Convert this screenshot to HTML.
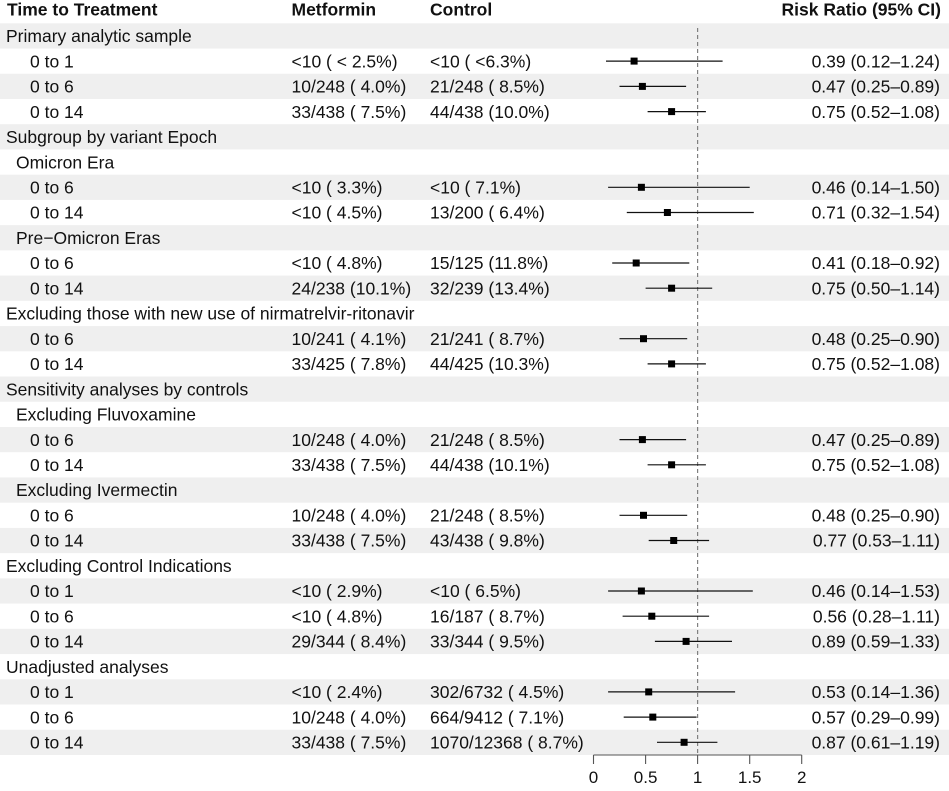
<!DOCTYPE html>
<html><head><meta charset="utf-8"><style>
html,body{margin:0;padding:0;background:#fff;}
svg{display:block;}
text{font-family:"Liberation Sans",Arial,sans-serif;font-size:17.5px;fill:#111;}
.b{font-weight:bold;}
.e{text-anchor:end;}
.m{text-anchor:middle;font-size:17px;}
</style></head><body>
<svg width="949" height="791" viewBox="0 0 949 791" xmlns="http://www.w3.org/2000/svg">
<g fill="#efefef">
<rect x="0" y="23.3" width="949" height="25.23"/>
<rect x="0" y="73.76" width="949" height="25.23"/>
<rect x="0" y="124.22" width="949" height="25.23"/>
<rect x="0" y="174.68" width="949" height="25.23"/>
<rect x="0" y="225.14" width="949" height="25.23"/>
<rect x="0" y="275.6" width="949" height="25.23"/>
<rect x="0" y="326.06" width="949" height="25.23"/>
<rect x="0" y="376.52" width="949" height="25.23"/>
<rect x="0" y="426.98" width="949" height="25.23"/>
<rect x="0" y="477.44" width="949" height="25.23"/>
<rect x="0" y="527.9" width="949" height="25.23"/>
<rect x="0" y="578.36" width="949" height="25.23"/>
<rect x="0" y="628.82" width="949" height="25.23"/>
<rect x="0" y="679.28" width="949" height="25.23"/>
<rect x="0" y="729.74" width="949" height="25.23"/>
</g>

<!-- header -->
<text class="b" x="7" y="15.5">Time to Treatment</text>
<text class="b" x="291.5" y="15.5">Metformin</text>
<text class="b" x="430" y="15.5">Control</text>
<text class="b e" x="941" y="15.5">Risk Ratio (95% CI)</text>

<!-- labels -->
<text x="6" y="42.1">Primary analytic sample</text>
<text x="30" y="67.3">0 to 1</text>
<text x="30" y="92.6">0 to 6</text>
<text x="30" y="117.8">0 to 14</text>
<text x="6" y="143.0">Subgroup by variant Epoch</text>
<text x="16" y="168.3">Omicron Era</text>
<text x="30" y="193.5">0 to 6</text>
<text x="30" y="218.7">0 to 14</text>
<text x="16" y="243.9">Pre−Omicron Eras</text>
<text x="30" y="269.2">0 to 6</text>
<text x="30" y="294.4">0 to 14</text>
<text x="6" y="319.6">Excluding those with new use of nirmatrelvir-ritonavir</text>
<text x="30" y="344.9">0 to 6</text>
<text x="30" y="370.1">0 to 14</text>
<text x="6" y="395.3">Sensitivity analyses by controls</text>
<text x="16" y="420.6">Excluding Fluvoxamine</text>
<text x="30" y="445.8">0 to 6</text>
<text x="30" y="471.0">0 to 14</text>
<text x="16" y="496.2">Excluding Ivermectin</text>
<text x="30" y="521.5">0 to 6</text>
<text x="30" y="546.7">0 to 14</text>
<text x="6" y="571.9">Excluding Control Indications</text>
<text x="30" y="597.2">0 to 1</text>
<text x="30" y="622.4">0 to 6</text>
<text x="30" y="647.6">0 to 14</text>
<text x="6" y="672.9">Unadjusted analyses</text>
<text x="30" y="698.1">0 to 1</text>
<text x="30" y="723.3">0 to 6</text>
<text x="30" y="748.5">0 to 14</text>

<!-- metformin -->
<text x="291.5" y="67.3">&lt;10 ( &lt; 2.5%)</text>
<text x="291.5" y="92.6">10/248 ( 4.0%)</text>
<text x="291.5" y="117.8">33/438 ( 7.5%)</text>
<text x="291.5" y="193.5">&lt;10 ( 3.3%)</text>
<text x="291.5" y="218.7">&lt;10 ( 4.5%)</text>
<text x="291.5" y="269.2">&lt;10 ( 4.8%)</text>
<text x="291.5" y="294.4">24/238 (10.1%)</text>
<text x="291.5" y="344.9">10/241 ( 4.1%)</text>
<text x="291.5" y="370.1">33/425 ( 7.8%)</text>
<text x="291.5" y="445.8">10/248 ( 4.0%)</text>
<text x="291.5" y="471.0">33/438 ( 7.5%)</text>
<text x="291.5" y="521.5">10/248 ( 4.0%)</text>
<text x="291.5" y="546.7">33/438 ( 7.5%)</text>
<text x="291.5" y="597.2">&lt;10 ( 2.9%)</text>
<text x="291.5" y="622.4">&lt;10 ( 4.8%)</text>
<text x="291.5" y="647.6">29/344 ( 8.4%)</text>
<text x="291.5" y="698.1">&lt;10 ( 2.4%)</text>
<text x="291.5" y="723.3">10/248 ( 4.0%)</text>
<text x="291.5" y="748.5">33/438 ( 7.5%)</text>

<!-- control -->
<text x="430" y="67.3">&lt;10 ( &lt;6.3%)</text>
<text x="430" y="92.6">21/248 ( 8.5%)</text>
<text x="430" y="117.8">44/438 (10.0%)</text>
<text x="430" y="193.5">&lt;10 ( 7.1%)</text>
<text x="430" y="218.7">13/200 ( 6.4%)</text>
<text x="430" y="269.2">15/125 (11.8%)</text>
<text x="430" y="294.4">32/239 (13.4%)</text>
<text x="430" y="344.9">21/241 ( 8.7%)</text>
<text x="430" y="370.1">44/425 (10.3%)</text>
<text x="430" y="445.8">21/248 ( 8.5%)</text>
<text x="430" y="471.0">44/438 (10.1%)</text>
<text x="430" y="521.5">21/248 ( 8.5%)</text>
<text x="430" y="546.7">43/438 ( 9.8%)</text>
<text x="430" y="597.2">&lt;10 ( 6.5%)</text>
<text x="430" y="622.4">16/187 ( 8.7%)</text>
<text x="430" y="647.6">33/344 ( 9.5%)</text>
<text x="430" y="698.1">302/6732 ( 4.5%)</text>
<text x="430" y="723.3">664/9412 ( 7.1%)</text>
<text x="430" y="748.5">1070/12368 ( 8.7%)</text>

<!-- RR text -->
<text class="e" x="940" y="67.3">0.39 (0.12–1.24)</text>
<text class="e" x="940" y="92.6">0.47 (0.25–0.89)</text>
<text class="e" x="940" y="117.8">0.75 (0.52–1.08)</text>
<text class="e" x="940" y="193.5">0.46 (0.14–1.50)</text>
<text class="e" x="940" y="218.7">0.71 (0.32–1.54)</text>
<text class="e" x="940" y="269.2">0.41 (0.18–0.92)</text>
<text class="e" x="940" y="294.4">0.75 (0.50–1.14)</text>
<text class="e" x="940" y="344.9">0.48 (0.25–0.90)</text>
<text class="e" x="940" y="370.1">0.75 (0.52–1.08)</text>
<text class="e" x="940" y="445.8">0.47 (0.25–0.89)</text>
<text class="e" x="940" y="471.0">0.75 (0.52–1.08)</text>
<text class="e" x="940" y="521.5">0.48 (0.25–0.90)</text>
<text class="e" x="940" y="546.7">0.77 (0.53–1.11)</text>
<text class="e" x="940" y="597.2">0.46 (0.14–1.53)</text>
<text class="e" x="940" y="622.4">0.56 (0.28–1.11)</text>
<text class="e" x="940" y="647.6">0.89 (0.59–1.33)</text>
<text class="e" x="940" y="698.1">0.53 (0.14–1.36)</text>
<text class="e" x="940" y="723.3">0.57 (0.29–0.99)</text>
<text class="e" x="940" y="748.5">0.87 (0.61–1.19)</text>

<!-- reference line -->
<line x1="697.6" y1="28" x2="697.6" y2="755" stroke="#808080" stroke-width="1.2" stroke-dasharray="4,3"/>

<!-- CI lines -->
<g stroke="#111" stroke-width="1.2">
<line x1="606.0" y1="61.1" x2="722.6" y2="61.1"/>
<line x1="619.5" y1="86.4" x2="686.1" y2="86.4"/>
<line x1="647.6" y1="111.6" x2="705.9" y2="111.6"/>
<line x1="608.1" y1="187.3" x2="749.7" y2="187.3"/>
<line x1="626.8" y1="212.5" x2="753.8" y2="212.5"/>
<line x1="612.2" y1="263.0" x2="689.3" y2="263.0"/>
<line x1="645.6" y1="288.2" x2="712.2" y2="288.2"/>
<line x1="619.5" y1="338.7" x2="687.2" y2="338.7"/>
<line x1="647.6" y1="363.9" x2="705.9" y2="363.9"/>
<line x1="619.5" y1="439.6" x2="686.1" y2="439.6"/>
<line x1="647.6" y1="464.8" x2="705.9" y2="464.8"/>
<line x1="619.5" y1="515.3" x2="687.2" y2="515.3"/>
<line x1="648.7" y1="540.5" x2="709.1" y2="540.5"/>
<line x1="608.1" y1="591.0" x2="752.8" y2="591.0"/>
<line x1="622.6" y1="616.2" x2="709.1" y2="616.2"/>
<line x1="654.9" y1="641.4" x2="732.0" y2="641.4"/>
<line x1="608.1" y1="691.9" x2="735.1" y2="691.9"/>
<line x1="623.7" y1="717.1" x2="696.6" y2="717.1"/>
<line x1="657.0" y1="742.3" x2="717.4" y2="742.3"/>
</g>

<!-- points -->
<g fill="#000">
<rect x="630.6" y="57.6" width="7" height="7"/>
<rect x="638.9" y="82.9" width="7" height="7"/>
<rect x="668.1" y="108.1" width="7" height="7"/>
<rect x="637.9" y="183.8" width="7" height="7"/>
<rect x="663.9" y="209.0" width="7" height="7"/>
<rect x="632.7" y="259.5" width="7" height="7"/>
<rect x="668.1" y="284.7" width="7" height="7"/>
<rect x="640.0" y="335.2" width="7" height="7"/>
<rect x="668.1" y="360.4" width="7" height="7"/>
<rect x="638.9" y="436.1" width="7" height="7"/>
<rect x="668.1" y="461.3" width="7" height="7"/>
<rect x="640.0" y="511.8" width="7" height="7"/>
<rect x="670.2" y="537.0" width="7" height="7"/>
<rect x="637.9" y="587.5" width="7" height="7"/>
<rect x="648.3" y="612.7" width="7" height="7"/>
<rect x="682.6" y="637.9" width="7" height="7"/>
<rect x="645.2" y="688.4" width="7" height="7"/>
<rect x="649.3" y="713.6" width="7" height="7"/>
<rect x="680.6" y="738.8" width="7" height="7"/>
</g>

<!-- axis -->
<g stroke="#555" stroke-width="1.1">
<line x1="593.5" y1="755" x2="801.7" y2="755"/>
<line x1="593.5" y1="755" x2="593.5" y2="764"/>
<line x1="645.6" y1="755" x2="645.6" y2="764"/>
<line x1="697.6" y1="755" x2="697.6" y2="764"/>
<line x1="749.7" y1="755" x2="749.7" y2="764"/>
<line x1="801.7" y1="755" x2="801.7" y2="764"/>
</g>
<text class="m" x="593.5" y="783">0</text>
<text class="m" x="645.6" y="783">0.5</text>
<text class="m" x="697.6" y="783">1</text>
<text class="m" x="749.7" y="783">1.5</text>
<text class="m" x="801.7" y="783">2</text>
</svg>
</body></html>
